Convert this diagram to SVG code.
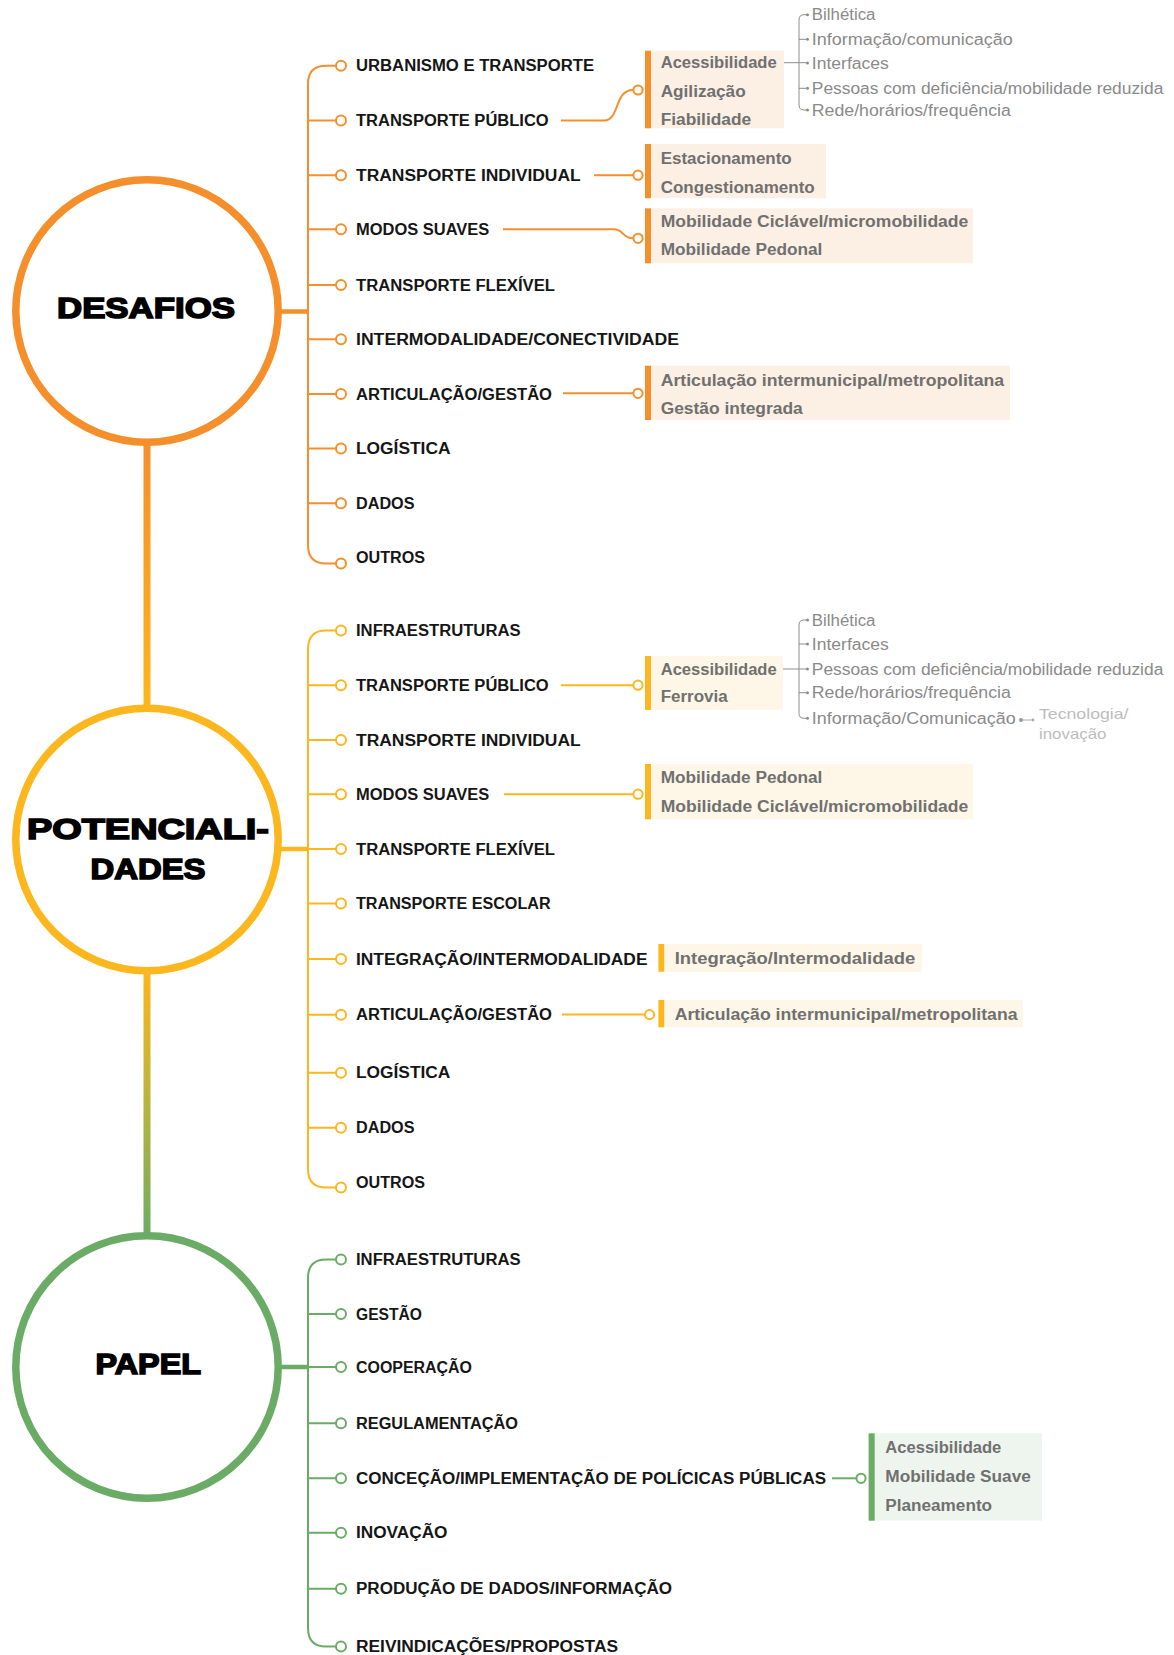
<svg xmlns="http://www.w3.org/2000/svg" width="1174" height="1655" viewBox="0 0 1174 1655">
<defs>
<linearGradient id="gA" x1="0" y1="440" x2="0" y2="710" gradientUnits="userSpaceOnUse"><stop offset="0" stop-color="#F58F2C"/><stop offset="1" stop-color="#FCB61E"/></linearGradient>
<linearGradient id="gB" x1="0" y1="970" x2="0" y2="1238" gradientUnits="userSpaceOnUse"><stop offset="0" stop-color="#FCB61E"/><stop offset="0.5" stop-color="#B9B43C"/><stop offset="1" stop-color="#6AAC65"/></linearGradient>
<style>
text{font-family:"Liberation Sans",Arial,sans-serif}
.lbl{font-size:16px;font-weight:700;fill:#161616}
.bx{font-size:16px;font-weight:700;fill:#707070}
.lt{font-size:16px;font-weight:400;fill:#8a8a8a}
.tn{font-size:15px;font-weight:400;fill:#bdbdbd}
.big{font-size:30px;font-weight:700;fill:#000;stroke:#000;stroke-width:1.6}
.o{stroke:#F58F2C}.y{stroke:#FCB61E}.g{stroke:#6AAC65}
.ln{fill:none;stroke-width:2}
.bul{fill:#fff;stroke-width:2}
.sm{fill:none;stroke:#8d8d8d;stroke-width:1}
.dot{fill:#8d8d8d}
.ring{fill:#fff;stroke-width:7.5}
.bgo{fill:#FCEFE4}.bgy{fill:#FEF6E6}.bgg{fill:#EEF5EE}
</style>
</defs>
<rect width="1174" height="1655" fill="#fff"/>

<g id="connectors">
<rect x="143.5" y="440" width="7" height="270" fill="url(#gA)"/>
<rect x="143.5" y="970" width="7" height="268" fill="url(#gB)"/>
<path class="o" d="M278 311.5H309" stroke-width="4.5" fill="none"/>
<path class="y" d="M278 849H309" stroke-width="4.5" fill="none"/>
<path class="g" d="M278 1367H309" stroke-width="4.5" fill="none"/>
<path class="ln o" d="M336 65.7H326Q308 65.7 308 84V545Q308 563.5 326 563.5H336M308 120.5H336M308 175.2H336M308 229.3H336M308 285H336M308 339.3H336M308 394H336M308 448.5H336M308 503.3H336"/>
<path class="ln y" d="M336 630.5H326Q308 630.5 308 649V1169Q308 1187.5 326 1187.5H336M308 685.2H336M308 740H336M308 794.2H336M308 849H336M308 903.6H336M308 959H336M308 1014.8H336M308 1072.7H336M308 1127.7H336"/>
<path class="ln g" d="M336 1259.5H326Q308 1259.5 308 1278V1628Q308 1646.5 326 1646.5H336M308 1314H336M308 1367H336M308 1423.2H336M308 1478.2H336M308 1532.8H336M308 1588.8H336"/>
<path class="ln o" stroke-width="1.8" d="M561 120.5H604C620 120.5 614 90 633 90"/>
<path class="ln o" stroke-width="1.8" d="M594 175.2H633"/>
<path class="ln o" stroke-width="1.8" d="M503 229.3H614C624 229.3 622 238.3 633 238.3"/>
<path class="ln o" stroke-width="1.8" d="M563 393.3H633"/>
<path class="ln y" stroke-width="1.8" d="M561 685.2H633"/>
<path class="ln y" stroke-width="1.8" d="M504 794.2H633"/>
<path class="ln y" stroke-width="1.8" d="M562 1014.6H644.5"/>
<path class="ln g" stroke-width="1.8" d="M832 1478.3H856"/>
<circle class="bul o" cx="638" cy="90" r="4.6" stroke-width="1.8"/>
<circle class="bul o" cx="638" cy="175.2" r="4.6" stroke-width="1.8"/>
<circle class="bul o" cx="638" cy="238.3" r="4.6" stroke-width="1.8"/>
<circle class="bul o" cx="638" cy="393.3" r="4.6" stroke-width="1.8"/>
<circle class="bul y" cx="638" cy="685.2" r="4.6" stroke-width="1.8"/>
<circle class="bul y" cx="638" cy="794.2" r="4.6" stroke-width="1.8"/>
<circle class="bul y" cx="649.5" cy="1014.6" r="4.6" stroke-width="1.8"/>
<circle class="bul g" cx="861" cy="1478.3" r="4.6" stroke-width="1.8"/>
<circle class="dot" cx="780" cy="62.7" r="1.7"/>
<path class="sm" d="M780 62.7H807M807 14.7H804Q799 14.7 799 20V105Q799 110 804 110H807M799 39.3H807M799 88.3H807"/>
<g class="dot"><circle cx="807.5" cy="14.7" r="1.5"/><circle cx="807.5" cy="39.3" r="1.5"/><circle cx="807.5" cy="63" r="1.5"/><circle cx="807.5" cy="88.3" r="1.5"/><circle cx="807.5" cy="110" r="1.5"/></g>
<circle class="dot" cx="780" cy="669" r="1.7"/>
<path class="sm" d="M780 669H807M807 620H804Q799 620 799 625V713.3Q799 718.3 804 718.3H807M799 644H807M799 692.7H807"/>
<g class="dot"><circle cx="807.5" cy="620" r="1.5"/><circle cx="807.5" cy="644" r="1.5"/><circle cx="807.5" cy="669" r="1.5"/><circle cx="807.5" cy="692.7" r="1.5"/><circle cx="807.5" cy="718.3" r="1.5"/></g>
<path d="M1021 720H1033" stroke="#aaa" stroke-width="1" fill="none"/>
<circle cx="1021" cy="720" r="2" fill="#999"/><circle cx="1033" cy="720" r="1.4" fill="#aaa"/>
</g>

<g id="node-desafios">
<circle class="ring o" cx="147" cy="311" r="131.2"/>
<text class="big" x="57" y="318" textLength="178" lengthAdjust="spacingAndGlyphs">DESAFIOS</text>
</g>
<g id="node-potencialidades">
<circle class="ring y" cx="147" cy="839.5" r="131.2"/>
<text class="big" x="27" y="839.3" textLength="242" lengthAdjust="spacingAndGlyphs">POTENCIALI-</text>
<text class="big" x="90.5" y="878.7" textLength="115" lengthAdjust="spacingAndGlyphs">DADES</text>
</g>
<g id="node-papel">
<circle class="ring g" cx="147" cy="1367" r="131.2"/>
<text class="big" x="95.5" y="1374" textLength="105.5" lengthAdjust="spacingAndGlyphs">PAPEL</text>
</g>

<g id="desafios-items">
<g class="o"><circle class="bul" cx="341" cy="65.7" r="5"/><circle class="bul" cx="341" cy="120.5" r="5"/><circle class="bul" cx="341" cy="175.2" r="5"/><circle class="bul" cx="341" cy="229.3" r="5"/><circle class="bul" cx="341" cy="285" r="5"/><circle class="bul" cx="341" cy="339.3" r="5"/><circle class="bul" cx="341" cy="394" r="5"/><circle class="bul" cx="341" cy="448.5" r="5"/><circle class="bul" cx="341" cy="503.3" r="5"/><circle class="bul" cx="341" cy="563.5" r="5"/></g>
<text class="lbl" x="356" y="71.3" textLength="238" lengthAdjust="spacingAndGlyphs">URBANISMO E TRANSPORTE</text>
<text class="lbl" x="356" y="126.1" textLength="192.7" lengthAdjust="spacingAndGlyphs">TRANSPORTE PÚBLICO</text>
<text class="lbl" x="356" y="180.8" textLength="224.7" lengthAdjust="spacingAndGlyphs">TRANSPORTE INDIVIDUAL</text>
<text class="lbl" x="356" y="234.9" textLength="133.3" lengthAdjust="spacingAndGlyphs">MODOS SUAVES</text>
<text class="lbl" x="356" y="290.6" textLength="199" lengthAdjust="spacingAndGlyphs">TRANSPORTE FLEXÍVEL</text>
<text class="lbl" x="356" y="344.9" textLength="323" lengthAdjust="spacingAndGlyphs">INTERMODALIDADE/CONECTIVIDADE</text>
<text class="lbl" x="356" y="399.6" textLength="196" lengthAdjust="spacingAndGlyphs">ARTICULAÇÃO/GESTÃO</text>
<text class="lbl" x="356" y="454.1" textLength="94.5" lengthAdjust="spacingAndGlyphs">LOGÍSTICA</text>
<text class="lbl" x="356" y="508.9" textLength="58.5" lengthAdjust="spacingAndGlyphs">DADOS</text>
<text class="lbl" x="356" y="563.4" textLength="69" lengthAdjust="spacingAndGlyphs">OUTROS</text>
</g>

<g id="desafios-box-tp">
<rect class="bgo" x="651" y="50.7" width="133" height="77.6"/>
<rect x="645" y="50.7" width="6" height="77.6" fill="#F58F2C"/>
<text class="bx" x="660.7" y="67.9" textLength="116" lengthAdjust="spacingAndGlyphs">Acessibilidade</text>
<text class="bx" x="660.7" y="97.3" textLength="85" lengthAdjust="spacingAndGlyphs">Agilização</text>
<text class="bx" x="660.7" y="124.9" textLength="90.5" lengthAdjust="spacingAndGlyphs">Fiabilidade</text>
</g>
<g id="desafios-sub-acess">
<text class="lt" x="811.8" y="20.3" textLength="63.7" lengthAdjust="spacingAndGlyphs">Bilhética</text>
<text class="lt" x="811.8" y="44.9" textLength="201" lengthAdjust="spacingAndGlyphs">Informação/comunicação</text>
<text class="lt" x="811.8" y="68.9" textLength="77" lengthAdjust="spacingAndGlyphs">Interfaces</text>
<text class="lt" x="811.8" y="93.9" textLength="351.5" lengthAdjust="spacingAndGlyphs">Pessoas com deficiência/mobilidade reduzida</text>
<text class="lt" x="811.8" y="115.6" textLength="199" lengthAdjust="spacingAndGlyphs">Rede/horários/frequência</text>
</g>
<g id="desafios-box-ti">
<rect class="bgo" x="651" y="144" width="175" height="54.3"/>
<rect x="645" y="144" width="6" height="54.3" fill="#F58F2C"/>
<text class="bx" x="660.7" y="164.3" textLength="131" lengthAdjust="spacingAndGlyphs">Estacionamento</text>
<text class="bx" x="660.7" y="192.9" textLength="154" lengthAdjust="spacingAndGlyphs">Congestionamento</text>
</g>
<g id="desafios-box-ms">
<rect class="bgo" x="651" y="208.3" width="322" height="55"/>
<rect x="645" y="208.3" width="6" height="55" fill="#F58F2C"/>
<text class="bx" x="660.7" y="227.3" textLength="307.6" lengthAdjust="spacingAndGlyphs">Mobilidade Ciclável/micromobilidade</text>
<text class="bx" x="660.7" y="254.9" textLength="161.7" lengthAdjust="spacingAndGlyphs">Mobilidade Pedonal</text>
</g>
<g id="desafios-box-ag">
<rect class="bgo" x="651" y="365.7" width="359" height="54.3"/>
<rect x="645" y="365.7" width="6" height="54.3" fill="#F58F2C"/>
<text class="bx" x="660.7" y="385.6" textLength="343.5" lengthAdjust="spacingAndGlyphs">Articulação intermunicipal/metropolitana</text>
<text class="bx" x="660.7" y="413.9" textLength="142" lengthAdjust="spacingAndGlyphs">Gestão integrada</text>
</g>

<g id="pot-items">
<g class="y"><circle class="bul" cx="341" cy="630.5" r="5"/><circle class="bul" cx="341" cy="685.2" r="5"/><circle class="bul" cx="341" cy="740" r="5"/><circle class="bul" cx="341" cy="794.2" r="5"/><circle class="bul" cx="341" cy="849" r="5"/><circle class="bul" cx="341" cy="903.6" r="5"/><circle class="bul" cx="341" cy="959" r="5"/><circle class="bul" cx="341" cy="1014.8" r="5"/><circle class="bul" cx="341" cy="1072.7" r="5"/><circle class="bul" cx="341" cy="1127.7" r="5"/><circle class="bul" cx="341" cy="1187.5" r="5"/></g>
<text class="lbl" x="356" y="636.1" textLength="164.5" lengthAdjust="spacingAndGlyphs">INFRAESTRUTURAS</text>
<text class="lbl" x="356" y="690.8" textLength="192.7" lengthAdjust="spacingAndGlyphs">TRANSPORTE PÚBLICO</text>
<text class="lbl" x="356" y="745.6" textLength="224.7" lengthAdjust="spacingAndGlyphs">TRANSPORTE INDIVIDUAL</text>
<text class="lbl" x="356" y="799.8" textLength="133.3" lengthAdjust="spacingAndGlyphs">MODOS SUAVES</text>
<text class="lbl" x="356" y="854.6" textLength="199" lengthAdjust="spacingAndGlyphs">TRANSPORTE FLEXÍVEL</text>
<text class="lbl" x="356" y="909.2" textLength="194.6" lengthAdjust="spacingAndGlyphs">TRANSPORTE ESCOLAR</text>
<text class="lbl" x="356" y="964.6" textLength="291.5" lengthAdjust="spacingAndGlyphs">INTEGRAÇÃO/INTERMODALIDADE</text>
<text class="lbl" x="356" y="1020.4" textLength="196" lengthAdjust="spacingAndGlyphs">ARTICULAÇÃO/GESTÃO</text>
<text class="lbl" x="356" y="1078.3" textLength="94.3" lengthAdjust="spacingAndGlyphs">LOGÍSTICA</text>
<text class="lbl" x="356" y="1133.3" textLength="58.5" lengthAdjust="spacingAndGlyphs">DADOS</text>
<text class="lbl" x="356" y="1188" textLength="69" lengthAdjust="spacingAndGlyphs">OUTROS</text>
</g>

<g id="pot-box-tp">
<rect class="bgy" x="651" y="656" width="132" height="54"/>
<rect x="645" y="656" width="6" height="54" fill="#FCB61E"/>
<text class="bx" x="660.7" y="674.6" textLength="116" lengthAdjust="spacingAndGlyphs">Acessibilidade</text>
<text class="bx" x="660.7" y="702.3" textLength="67" lengthAdjust="spacingAndGlyphs">Ferrovia</text>
</g>
<g id="pot-sub-acess">
<text class="lt" x="811.8" y="625.6" textLength="63.7" lengthAdjust="spacingAndGlyphs">Bilhética</text>
<text class="lt" x="811.8" y="649.6" textLength="77" lengthAdjust="spacingAndGlyphs">Interfaces</text>
<text class="lt" x="811.8" y="674.6" textLength="351.5" lengthAdjust="spacingAndGlyphs">Pessoas com deficiência/mobilidade reduzida</text>
<text class="lt" x="811.8" y="698.3" textLength="199" lengthAdjust="spacingAndGlyphs">Rede/horários/frequência</text>
<text class="lt" x="811.8" y="723.9" textLength="203.8" lengthAdjust="spacingAndGlyphs">Informação/Comunicação</text>
<text class="tn" x="1039" y="719" textLength="89.5" lengthAdjust="spacingAndGlyphs">Tecnologia/</text>
<text class="tn" x="1039" y="739" textLength="67.5" lengthAdjust="spacingAndGlyphs">inovação</text>
</g>
<g id="pot-box-ms">
<rect class="bgy" x="651" y="764" width="322" height="55.3"/>
<rect x="645" y="764" width="6" height="55.3" fill="#FCB61E"/>
<text class="bx" x="660.7" y="782.9" textLength="161.7" lengthAdjust="spacingAndGlyphs">Mobilidade Pedonal</text>
<text class="bx" x="660.7" y="811.6" textLength="307.6" lengthAdjust="spacingAndGlyphs">Mobilidade Ciclável/micromobilidade</text>
</g>
<g id="pot-box-int">
<rect class="bgy" x="664" y="944" width="258" height="27.7"/>
<rect x="658.4" y="944" width="5.8" height="27.7" fill="#FCB61E"/>
<text class="bx" x="674.7" y="963.9" textLength="240.5" lengthAdjust="spacingAndGlyphs">Integração/Intermodalidade</text>
</g>
<g id="pot-box-ag">
<rect class="bgy" x="664" y="1000" width="359" height="27.3"/>
<rect x="658.4" y="1000" width="5.8" height="27.3" fill="#FCB61E"/>
<text class="bx" x="674.7" y="1019.9" textLength="342.8" lengthAdjust="spacingAndGlyphs">Articulação intermunicipal/metropolitana</text>
</g>

<g id="papel-items">
<g class="g"><circle class="bul" cx="341" cy="1259.5" r="5"/><circle class="bul" cx="341" cy="1314" r="5"/><circle class="bul" cx="341" cy="1367" r="5"/><circle class="bul" cx="341" cy="1423.2" r="5"/><circle class="bul" cx="341" cy="1478.2" r="5"/><circle class="bul" cx="341" cy="1532.8" r="5"/><circle class="bul" cx="341" cy="1588.8" r="5"/><circle class="bul" cx="341" cy="1646.5" r="5"/></g>
<text class="lbl" x="356" y="1265.1" textLength="164.5" lengthAdjust="spacingAndGlyphs">INFRAESTRUTURAS</text>
<text class="lbl" x="356" y="1319.6" textLength="66" lengthAdjust="spacingAndGlyphs">GESTÃO</text>
<text class="lbl" x="356" y="1372.6" textLength="116" lengthAdjust="spacingAndGlyphs">COOPERAÇÃO</text>
<text class="lbl" x="356" y="1428.8" textLength="162" lengthAdjust="spacingAndGlyphs">REGULAMENTAÇÃO</text>
<text class="lbl" x="356" y="1483.8" textLength="470" lengthAdjust="spacingAndGlyphs">CONCEÇÃO/IMPLEMENTAÇÃO DE POLÍCICAS PÚBLICAS</text>
<text class="lbl" x="356" y="1538.4" textLength="91.5" lengthAdjust="spacingAndGlyphs">INOVAÇÃO</text>
<text class="lbl" x="356" y="1594.4" textLength="316" lengthAdjust="spacingAndGlyphs">PRODUÇÃO DE DADOS/INFORMAÇÃO</text>
<text class="lbl" x="356" y="1652.1" textLength="262" lengthAdjust="spacingAndGlyphs">REIVINDICAÇÕES/PROPOSTAS</text>
</g>
<g id="papel-box">
<rect class="bgg" x="874.7" y="1433.3" width="167.3" height="87.4"/>
<rect x="868.6" y="1433.3" width="6.1" height="87.4" fill="#6AAC65"/>
<text class="bx" x="885.3" y="1453.3" textLength="116" lengthAdjust="spacingAndGlyphs">Acessibilidade</text>
<text class="bx" x="885.3" y="1481.6" textLength="145.5" lengthAdjust="spacingAndGlyphs">Mobilidade Suave</text>
<text class="bx" x="885.3" y="1510.6" textLength="106.8" lengthAdjust="spacingAndGlyphs">Planeamento</text>
</g>
</svg>
